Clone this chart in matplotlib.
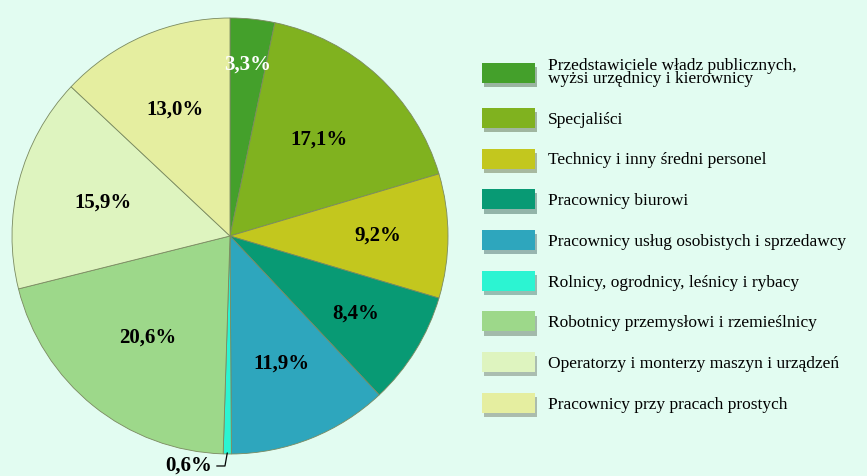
import matplotlib
matplotlib.use("Agg")
import matplotlib.pyplot as plt
import numpy as np
from matplotlib import patheffects as pe

categories = [
    "Przedstawiciele władz publicznych,\nwyżsi urzędnicy i kierownicy",
    "Specjaliści",
    "Technicy i inny średni personel",
    "Pracownicy biurowi",
    "Pracownicy usług osobistych i sprzedawcy",
    "Rolnicy, ogrodnicy, leśnicy i rybacy",
    "Robotnicy przemysłowi i rzemieślnicy",
    "Operatorzy i monterzy maszyn i urządzeń",
    "Pracownicy przy pracach prostych",
]
values = [3.3, 17.1, 9.2, 8.4, 11.9, 0.6, 20.6, 15.9, 13.0]
labels = ["3,3%", "17,1%", "9,2%", "8,4%", "11,9%", "0,6%", "20,6%", "15,9%", "13,0%"]
colors = ["#44a02b", "#80b21f", "#c3c71e", "#089a74", "#2ea6bd",
          "#2cf4d2", "#9dd88a", "#def4bf", "#e5eea0"]
label_colors = ["white", "black", "black", "black", "black", "black", "black", "black", "black"]
label_radius = [0.79, 0.60, 0.68, 0.68, 0.63, 0.0, 0.60, 0.60, 0.63]

bg = "#e2fcf1"
W, H = 867, 476
fig = plt.figure(figsize=(W / 100, H / 100), dpi=100, facecolor=bg)
plt.rcParams['font.family'] = ['Liberation Serif', 'DejaVu Serif']

cx, cy, R = 230, 236, 218
ax = fig.add_axes([(cx - R) / W, (H - cy - R) / H, 2 * R / W, 2 * R / H])
ax.set_facecolor(bg)
wedges, _ = ax.pie(values, colors=colors, startangle=90, counterclock=False,
                   wedgeprops=dict(edgecolor="#7a8a60", linewidth=0.6))
ax.set_xlim(-1, 1)
ax.set_ylim(-1, 1)
ax.set_aspect("equal")
ax.axis("off")

for w, lab, lc, rf in zip(wedges, labels, label_colors, label_radius):
    ang = np.deg2rad((w.theta1 + w.theta2) / 2)
    if rf > 0:
        ax.text(rf * np.cos(ang), rf * np.sin(ang), lab, ha="center", va="center",
                fontsize=15, fontweight="bold", color=lc)
    else:
        x0, y0 = np.cos(ang), np.sin(ang)
        ax.annotate(lab, xy=(x0 * 0.995, y0 * 0.995), xytext=(-0.08, -1.055),
                    ha="right", va="center", fontsize=15, fontweight="bold",
                    annotation_clip=False,
                    arrowprops=dict(arrowstyle="-", color="black", lw=0.9,
                                    connectionstyle="angle,angleA=0,angleB=80,rad=0",
                                    shrinkA=1, shrinkB=0))

leg = fig.legend(wedges, categories, loc="upper left",
                 bbox_to_anchor=(466 / W, 1 - 42 / H), frameon=False,
                 prop={"family": "Liberation Serif", "size": 12.5},
                 handlelength=3.05, handleheight=1.4, handletextpad=0.75,
                 labelspacing=1.19)
for t in leg.get_texts():
    t.set_linespacing(0.8)
for h in leg.legend_handles:
    h.set_edgecolor("none")
    h.set_path_effects([pe.SimplePatchShadow(offset=(2, -3), alpha=0.35), pe.Normal()])

fig.savefig("out.png", dpi=100, facecolor=bg)
